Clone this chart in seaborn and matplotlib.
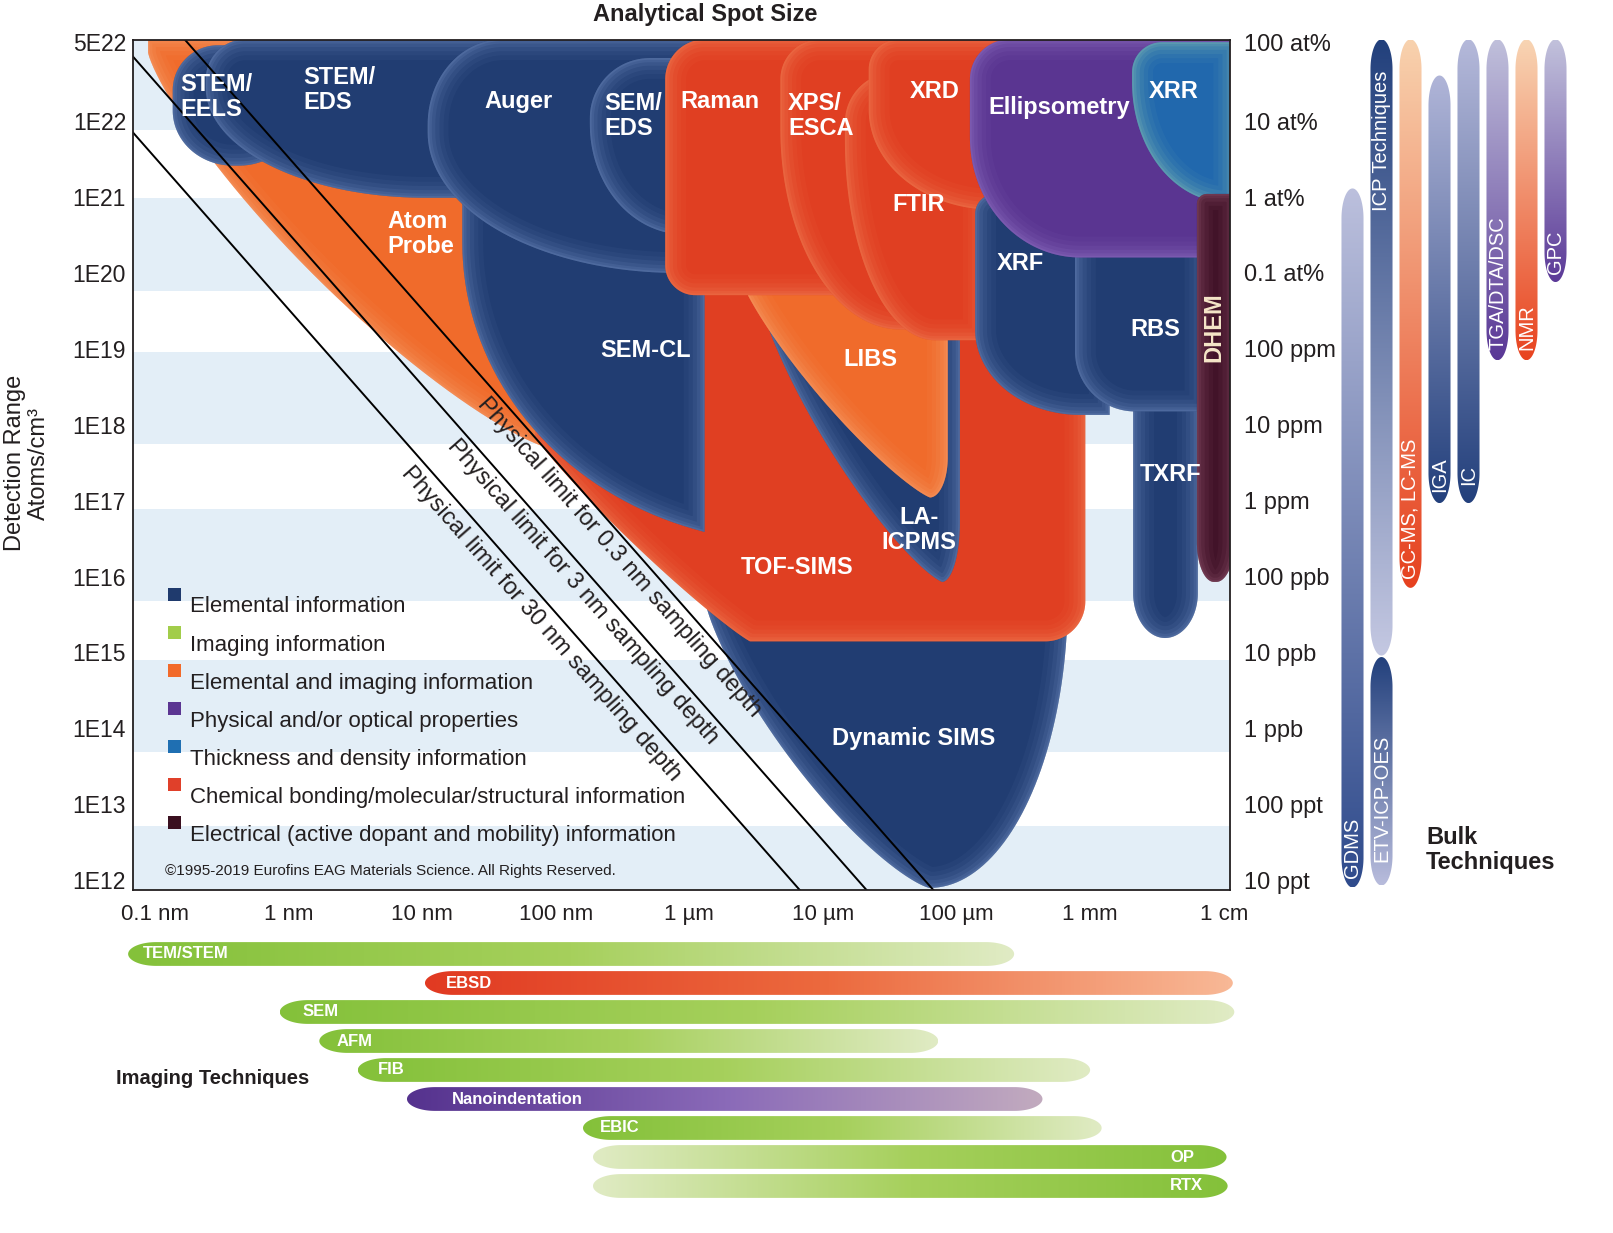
import numpy as np
import pandas as pd
import matplotlib
matplotlib.use('Agg')
import matplotlib.pyplot as plt
import seaborn as sns
from matplotlib.patches import Polygon, Rectangle
from matplotlib.colors import LinearSegmentedColormap
from matplotlib.ticker import NullLocator

sns.set_theme(style='white')
plt.rcParams['font.family'] = ['Liberation Sans', 'DejaVu Sans']
plt.rcParams['text.color'] = '#231f20'

# ---------------- data ----------------
# techniques on the main map: spot size range (m) and detection range (atoms/cm3)
tech_names = ['Atom Probe', 'Dynamic SIMS', 'TOF-SIMS', 'LA-ICPMS', 'LIBS',
              'STEM/EELS', 'STEM/EDS', 'SEM-CL', 'Auger', 'SEM/EDS',
              'Raman', 'XPS/ESCA', 'FTIR', 'XRD', 'XRF', 'TXRF', 'RBS',
              'Ellipsometry', 'XRR', 'DHEM']
tech_kind = ['elem_img', 'elemental', 'chemical', 'elemental', 'elem_img',
             'elemental', 'elemental', 'elemental', 'elemental', 'elemental',
             'chemical', 'chemical', 'chemical', 'chemical', 'elemental', 'elemental', 'elemental',
             'physical', 'thickness', 'electrical']
spot_lo = [8.9e-11, 1.3e-6, 7.0e-8, 3.4e-6, 2.4e-6,
           1.36e-10, 2.4e-10, 2.0e-8, 1.1e-8, 1.8e-7,
           6.6e-7, 4.8e-6, 1.46e-5, 2.2e-5, 1.38e-4, 2.1e-3, 7.7e-4,
           1.26e-4, 2.06e-3, 6.3e-3]
spot_hi = [1.1e-7, 6.8e-4, 9.2e-4, 1.06e-4, 8.6e-5,
           1.2e-9, 3.0e-7, 1.3e-6, 3.4e-6, 4.8e-6,
           2.25e-5, 1.06e-4, 1.6e-4, 2.5e-4, 1.4e-3, 6.4e-3, 7.3e-3,
           1.2e-2, 1.2e-2, 1.2e-2]
det_lo = [5.0e17, 7.9e11, 1.4e15, 8.5e15, 1.1e17,
          2.6e21, 9.8e20, 2.8e16, 1.0e20, 3.2e20,
          5.1e19, 1.8e19, 1.3e19, 6.8e20, 1.35e18, 1.55e15, 1.5e18,
          1.6e20, 8.5e20, 8.5e15]
det_hi = [1.2e23, 9.0e15, 1.7e20, 5.9e19, 2.0e20,
          1.0e23, 1.2e23, 1.1e21, 1.2e23, 6.8e22,
          1.2e23, 1.2e23, 4.4e22, 1.2e23, 1.1e21, 3.9e18, 5.0e20,
          1.2e23, 1.1e23, 1.1e21]

depth_nm = [0.3, 3, 30]

x_tick_vals = [1e-10, 1e-9, 1e-8, 1e-7, 1e-6, 1e-5, 1e-4, 1e-3, 1e-2]
x_tick_labels = ['0.1 nm', '1 nm', '10 nm', '100 nm', '1 µm', '10 µm', '100 µm', '1 mm', '1 cm']
y_tick_labels = ['1E12', '1E13', '1E14', '1E15', '1E16', '1E17', '1E18', '1E19',
                 '1E20', '1E21', '1E22', '5E22']
y_right_labels = ['10 ppt', '100 ppt', '1 ppb', '10 ppb', '100 ppb', '1 ppm', '10 ppm',
                  '100 ppm', '0.1 at%', '1 at%', '10 at%', '100 at%']

band_lo = [7.4e11, 4.9e13, 4.8e15, 5.5e17, 5.8e19, 7.6e21]
band_hi = [5.2e12, 7.9e14, 7.8e16, 9.1e18, 9.8e20, 1.2e23]

legend_kinds = ['elemental', 'imaging', 'elem_img', 'physical', 'thickness', 'chemical', 'electrical']
legend_labels = ['Elemental information', 'Imaging information', 'Elemental and imaging information',
                 'Physical and/or optical properties', 'Thickness and density information',
                 'Chemical bonding/molecular/structural information',
                 'Electrical (active dopant and mobility) information']

img_names = ['TEM/STEM', 'EBSD', 'SEM', 'AFM', 'FIB', 'Nanoindentation', 'EBIC', 'OP', 'RTX']
img_kind = ['imaging', 'chemical', 'imaging', 'imaging', 'imaging', 'physical', 'imaging', 'imaging', 'imaging']
img_lo = [6.3e-11, 1.05e-8, 8.6e-10, 1.7e-9, 3.3e-9, 7.7e-9, 1.6e-7, 1.9e-7, 1.9e-7]
img_hi = [2.7e-4, 1.17e-2, 1.2e-2, 7.3e-5, 1.0e-3, 4.4e-4, 1.22e-3, 1.05e-2, 1.07e-2]

bulk_names = ['GDMS', 'ICP Techniques', 'ETV-ICP-OES', 'GC-MS, LC-MS', 'IGA', 'IC',
              'TGA/DTA/DSC', 'NMR', 'GPC']
bulk_col = [0, 1, 1, 2, 3, 4, 5, 6, 7]
bulk_lo = [8e11, 9.1e14, 8.5e11, 7.1e15, 9.3e16, 9.3e16, 7.1e18, 7.1e18, 7.6e19]
bulk_hi = [1.3e21, 1.2e23, 8.7e14, 1.2e23, 4e22, 1.2e23, 1.2e23, 1.2e23, 1.2e23]

# ---------------- styles ----------------
kind_color = {'elemental': '#213d72', 'imaging': '#9cc83f', 'elem_img': '#f06b2b',
              'physical': '#5a3591', 'thickness': '#2168ad', 'chemical': '#e03f22',
              'electrical': '#3d0f24'}
kind_glow = {'elemental': '#8aa6d8', 'imaging': '#d8e8b0', 'elem_img': '#fbb488',
             'physical': '#a68ad8', 'thickness': '#a8dcb8', 'chemical': '#f89868',
             'electrical': '#b07088'}
legend_color = {'elemental': '#1f3a6d', 'imaging': '#a2cd4a', 'elem_img': '#f26a2a',
                'physical': '#5b3592', 'thickness': '#1f6fb2', 'chemical': '#e0402a',
                'electrical': '#3a1020'}

# corner shapes in pixels: (rx, ry, exponent)
corner_style = {
    'Atom Probe': {'bl': (400, 395, 1.25)},
    'Dynamic SIMS': {'bl': (225, 290, 1.3), 'br': (138, 290, 2)},
    'TOF-SIMS': {'bl': (215, 205, 1.1), 'br': (40, 40, 2)},
    'LA-ICPMS': {'bl': (182, 282, 1.25), 'br': (18, 60, 2)},
    'LIBS': {'bl': (190, 220, 1.2), 'br': (18, 40, 2)},
    'STEM/EELS': {'tl': (45, 45, 2), 'tr': (45, 45, 2), 'bl': (60, 55, 2), 'br': (60, 55, 2)},
    'STEM/EDS': {'tl': (40, 40, 2), 'bl': (220, 110, 2)},
    'SEM-CL': {'bl': (330, 300, 2)},
    'Auger': {'tl': (75, 85, 2), 'bl': (250, 140, 2)},
    'SEM/EDS': {'tl': (60, 60, 2), 'bl': (95, 110, 2)},
    'Raman': {'tl': (40, 40, 2), 'bl': (30, 30, 2), 'br': (30, 30, 2)},
    'XPS/ESCA': {'tl': (40, 40, 2), 'bl': (120, 200, 2)},
    'FTIR': {'tl': (50, 50, 2), 'bl': (90, 200, 2)},
    'XRD': {'tl': (30, 30, 2), 'bl': (125, 100, 2)},
    'XRF': {'tl': (20, 20, 2), 'bl': (105, 85, 2)},
    'TXRF': {'bl': (32, 45, 2), 'br': (33, 45, 2)},
    'RBS': {'tl': (20, 20, 2), 'bl': (60, 60, 2)},
    'Ellipsometry': {'tl': (40, 40, 2), 'bl': (110, 120, 2)},
    'XRR': {'tl': (30, 30, 2), 'bl': (95, 120, 2)},
    'DHEM': {'tl': (10, 10, 2), 'bl': (17, 40, 2), 'br': (18, 40, 2)},
}

label_text = {'STEM/EELS': 'STEM/\nEELS', 'STEM/EDS': 'STEM/\nEDS', 'SEM/EDS': 'SEM/\nEDS',
              'XPS/ESCA': 'XPS/\nESCA', 'Atom Probe': 'Atom\nProbe', 'LA-ICPMS': 'LA-\nICPMS'}
# label anchor (spot m, detection), horizontal alignment, rotation
label_pos = {
    'STEM/EELS': (1.54e-10, 2.1e22, 'left', 0), 'STEM/EDS': (1.3e-9, 2.6e22, 'left', 0),
    'Auger': (5.3e-8, 1.8e22, 'center', 0), 'SEM/EDS': (2.3e-7, 1.16e22, 'left', 0),
    'Raman': (1.7e-6, 1.8e22, 'center', 0), 'XPS/ESCA': (5.5e-6, 1.16e22, 'left', 0),
    'XRD': (6.9e-5, 2.5e22, 'center', 0), 'Ellipsometry': (5.9e-4, 1.5e22, 'center', 0),
    'XRR': (4.2e-3, 2.5e22, 'center', 0), 'FTIR': (5.2e-5, 8.1e20, 'center', 0),
    'Atom Probe': (5.5e-9, 3.3e20, 'left', 0), 'XRF': (3.0e-4, 1.35e20, 'center', 0),
    'RBS': (3.1e-3, 1.8e19, 'center', 0), 'DHEM': (8.4e-3, 1.95e19, 'center', 90),
    'SEM-CL': (4.7e-7, 9.6e18, 'center', 0), 'LIBS': (2.25e-5, 7.3e18, 'center', 0),
    'TXRF': (4.0e-3, 2.2e17, 'center', 0), 'LA-ICPMS': (5.2e-5, 4.1e16, 'center', 0),
    'TOF-SIMS': (6.4e-6, 1.3e16, 'center', 0), 'Dynamic SIMS': (4.8e-5, 7.4e13, 'center', 0),
}
limit_text_pos = [(3.0e-7, 1.8e16), (1.58e-7, 6.2e15), (7.8e-8, 2.4e15)]

img_grad = {'imaging': ['#84c13a', '#a6d05c', '#e0ebc4'],
            'chemical': ['#e13a22', '#ec6a3e', '#f8b896'],
            'physical': ['#55328e', '#8a6ab8', '#c2abbf']}
img_reverse = {'OP', 'RTX'}
img_label_off = {'TEM/STEM': 15, 'EBSD': 21, 'SEM': 23, 'AFM': 17, 'FIB': 20,
                 'Nanoindentation': 45, 'EBIC': 17, 'OP': 32, 'RTX': 25}

bulk_grad = {'GDMS': ('#2f4b8c', '#bcc0dd'), 'ICP Techniques': ('#c4c8e2', '#22407c'),
             'ETV-ICP-OES': ('#b8bcdc', '#22407c'), 'GC-MS, LC-MS': ('#e6411f', '#f8d2ae'),
             'IGA': ('#23407c', '#b0b5d8'), 'IC': ('#23407c', '#b5b9da'),
             'TGA/DTA/DSC': ('#5a3896', '#c0c0db'), 'NMR': ('#e8431f', '#f8d5b4'),
             'GPC': ('#5c3a98', '#c2c2dc')}
bulk_label_y = {'GDMS': 2.7e12, 'ICP Techniques': 5.6e21, 'ETV-ICP-OES': 1.2e13,
                'GC-MS, LC-MS': 7.9e16, 'IGA': 2.2e17, 'IC': 2.2e17,
                'TGA/DTA/DSC': 7.4e19, 'NMR': 1.95e19, 'GPC': 1.9e20}

# ---------------- layout ----------------
W, H = 1613, 1233
fig = plt.figure(figsize=(W / 100, H / 100), dpi=100)
fig.patch.set_facecolor('white')


def rect(l, t, r, b):
    return [l / W, 1 - b / H, (r - l) / W, (b - t) / H]


XL = (-10.164, -1.953)
YL = (11.87, 23.07)
ppd = 1097 / (XL[1] - XL[0])

ax = fig.add_axes(rect(133, 40, 1230, 890))
ax.set_xscale('log')
ax.set_yscale('log')
ax.set_xlim(10 ** XL[0], 10 ** XL[1])
ax.set_ylim(10 ** YL[0], 10 ** YL[1])
ax.set_autoscale_on(False)
ax.set_facecolor('white')


def blob_vertices(axis, x0, x1, y0, y1, corners, n=48):
    T = axis.transData
    a = T.transform([(x0, y0), (x1, y1)])
    X0, X1 = sorted(a[:, 0])
    Y0, Y1 = sorted(a[:, 1])

    def arc(cx, cy, rx, ry, p, a0, a1):
        t = np.radians(np.linspace(a0, a1, n))
        c, s = np.cos(t), np.sin(t)
        e = 2.0 / p
        return np.column_stack([cx + rx * np.sign(c) * np.abs(c) ** e,
                                cy + ry * np.sign(s) * np.abs(s) ** e])

    def get(k):
        return corners.get(k, (0, 0, 2))
    rx, ry, p = get('tr'); s1 = arc(X1 - rx, Y1 - ry, rx, ry, p, 0, 90)
    rx, ry, p = get('tl'); s2 = arc(X0 + rx, Y1 - ry, rx, ry, p, 90, 180)
    rx, ry, p = get('bl'); s3 = arc(X0 + rx, Y0 + ry, rx, ry, p, 180, 270)
    rx, ry, p = get('br'); s4 = arc(X1 - rx, Y0 + ry, rx, ry, p, 270, 360)
    P = np.vstack([s1, s2, s3, s4])
    P[:, 0] = np.clip(P[:, 0], X0, X1)
    P[:, 1] = np.clip(P[:, 1], Y0, Y1)
    return T.inverted().transform(P)


# background bands
for lo, hi in zip(band_lo, band_hi):
    ax.axhspan(lo, hi, color='#e3eef7', lw=0, zorder=0.2)

# technique blobs with a soft inner rim
for i, name in enumerate(tech_names):
    V = blob_vertices(ax, spot_lo[i], spot_hi[i], det_lo[i], det_hi[i], corner_style[name])
    poly = Polygon(V, closed=True, facecolor=kind_color[tech_kind[i]], edgecolor='none', zorder=2 + i)
    ax.add_patch(poly)
    Vc = np.vstack([V, V[:1]])
    for lw, al in [(30, 0.05), (23, 0.06), (17, 0.08), (11, 0.1), (6, 0.12), (2.5, 0.15)]:
        ln, = ax.plot(Vc[:, 0], Vc[:, 1], color=kind_glow[tech_kind[i]], lw=lw, alpha=al,
                      zorder=2 + i, solid_joinstyle='round')
        ln.set_clip_path(poly)

for name, (x, y, ha, rot) in label_pos.items():
    ax.text(x, y, label_text.get(name, name), color='#f5e6c8' if name == 'DHEM' else 'white',
            fontsize=17, fontweight='bold', ha=ha, va='center', rotation=rot,
            linespacing=1.1, zorder=60)

# physical limit lines: N = 1 / (spot^2 * depth)
rows = []
for d in depth_nm:
    for s in [1e-11, 1e-1]:
        rows.append({'spot': s, 'det': 1.0 / ((s * 100) ** 2 * d * 1e-7), 'depth': d})
lim_df = pd.DataFrame(rows)
sns.lineplot(data=lim_df, x='spot', y='det', units='depth', estimator=None, color='black',
             lw=1.4, ax=ax, zorder=45, legend=False)
ax.set_xlabel('')
ax.set_ylabel('')
ax.set_xlim(10 ** XL[0], 10 ** XL[1])
ax.set_ylim(10 ** YL[0], 10 ** YL[1])

p1 = ax.transData.transform((1e-9, 1.0 / ((1e-7) ** 2 * 3e-8)))
p2 = ax.transData.transform((1e-4, 1.0 / ((1e-2) ** 2 * 3e-8)))
ang = np.degrees(np.arctan2(p2[1] - p1[1], p2[0] - p1[0]))
for d, (x, y) in zip(depth_nm, limit_text_pos):
    ax.text(x, y, f'Physical limit for {d:g} nm sampling depth', rotation=ang,
            rotation_mode='anchor', ha='center', va='center', fontsize=17, zorder=50)

# ticks
ax.set_xticks(x_tick_vals)
ax.set_xticklabels(x_tick_labels)
ax.xaxis.set_minor_locator(NullLocator())
ytv = [10.0 ** k for k in range(12, 23)] + [10 ** (YL[1] - 0.03)]
ax.set_yticks(ytv)
ax.set_yticklabels(y_tick_labels)
ax.yaxis.set_minor_locator(NullLocator())
ax.tick_params(axis='x', length=0, pad=10, labelsize=16, colors='#231f20')
ax.tick_params(axis='y', length=0, pad=5, labelsize=16.5, colors='#231f20')
for sp in ax.spines.values():
    sp.set_color('#231f20')
    sp.set_linewidth(1.3)
    sp.set_zorder(70)

tw = ax.twinx()
tw.set_yscale('log')
tw.set_ylim(10 ** YL[0], 10 ** YL[1])
tw.set_yticks(ytv)
tw.set_yticklabels(y_right_labels)
tw.yaxis.set_minor_locator(NullLocator())
tw.tick_params(axis='y', length=0, pad=10, labelsize=17, colors='#231f20')
for sp in tw.spines.values():
    sp.set_visible(False)


# legend
def to_ax(px, py):
    return ((px - 133) / 1097, (890 - py) / 850)


for k, (kind, lab) in enumerate(zip(legend_kinds, legend_labels)):
    py = 607 + 38 * k
    x, y = to_ax(168, py - 6.5)
    ax.add_patch(Rectangle((x, y), 13 / 1097, 13 / 850, transform=ax.transAxes,
                           facecolor=legend_color[kind], edgecolor='none', zorder=55))
    tx, ty = to_ax(190, py)
    ax.text(tx, ty, lab, transform=ax.transAxes, fontsize=16, va='center', ha='left', zorder=55)
cx, cy = to_ax(165, 871)
ax.text(cx, cy, '©1995-2019 Eurofins EAG Materials Science. All Rights Reserved.',
        transform=ax.transAxes, fontsize=11, va='center', ha='left', zorder=55)

# ---------------- imaging techniques ----------------
axi = fig.add_axes(rect(120, 939.5, 1245, 1200.5))
axi.set_xlim(XL[0] - 13 / ppd, XL[1] + 15 / ppd)
axi.set_ylim(8.5, -0.5)
axi.set_autoscale_on(False)
axi.axis('off')
grad = np.linspace(0, 1, 256)
for i, name in enumerate(img_names):
    x0, x1 = np.log10(img_lo[i]), np.log10(img_hi[i])
    y0, y1 = i + 0.41, i - 0.41
    V = blob_vertices(axi, x0, x1, y0, y1, {k: (28, 12, 2) for k in ['tl', 'tr', 'bl', 'br']})
    patch = Polygon(V, closed=True, facecolor='none', edgecolor='none')
    axi.add_patch(patch)
    cols = img_grad[img_kind[i]]
    if name in img_reverse:
        cols = cols[::-1]
    cmap = LinearSegmentedColormap.from_list(name, cols)
    im = axi.imshow(grad[None, :], cmap=cmap, extent=(x0, x1, y0, y1), aspect='auto',
                    interpolation='bilinear', zorder=2)
    im.set_clip_path(patch)
    if name in img_reverse:
        axi.annotate(name, xy=(x1, i), xytext=(-img_label_off[name], 0), textcoords='offset pixels',
                     ha='right', va='center', color='white', fontsize=12, fontweight='bold', zorder=5)
    else:
        axi.annotate(name, xy=(x0, i), xytext=(img_label_off[name], 0), textcoords='offset pixels',
                     ha='left', va='center', color='white', fontsize=12, fontweight='bold', zorder=5)
axi.set_xlim(XL[0] - 13 / ppd, XL[1] + 15 / ppd)
axi.set_ylim(8.5, -0.5)

# ---------------- bulk techniques ----------------
axb = fig.add_axes(rect(1338, 40, 1570, 890))
axb.set_xlim(-0.5, 7.5)
axb.set_ylim(YL[0], YL[1])
axb.set_autoscale_on(False)
axb.axis('off')
for i, name in enumerate(bulk_names):
    c = bulk_col[i]
    x0, x1 = c - 0.38, c + 0.38
    y0, y1 = np.log10(bulk_lo[i]), np.log10(bulk_hi[i])
    V = blob_vertices(axb, x0, x1, y0, y1, {k: (11, 30, 2) for k in ['tl', 'tr', 'bl', 'br']})
    patch = Polygon(V, closed=True, facecolor='none', edgecolor='none')
    axb.add_patch(patch)
    cmap = LinearSegmentedColormap.from_list(name, list(bulk_grad[name]))
    im = axb.imshow(grad[:, None], cmap=cmap, extent=(x0, x1, y0, y1), origin='lower',
                    aspect='auto', interpolation='bilinear', zorder=2)
    im.set_clip_path(patch)
    axb.text(c, np.log10(bulk_label_y[name]), name, rotation=90, ha='center', va='center',
             color='white', fontsize=14.5, zorder=5)
axb.set_xlim(-0.5, 7.5)
axb.set_ylim(YL[0], YL[1])

# ---------------- titles ----------------
fig.text(705 / W, 1 - 14 / H, 'Analytical Spot Size', ha='center', va='center',
         fontsize=17, fontweight='bold')
fig.text(27 / W, 1 - 463 / H, 'Detection Range\nAtoms/cm³', rotation=90, ha='center',
         va='center', fontsize=17, linespacing=1.15)
fig.text(116 / W, 1 - 1078 / H, 'Imaging Techniques', ha='left', va='center',
         fontsize=14.5, fontweight='bold')
fig.text(1426 / W, 1 - 850 / H, 'Bulk\nTechniques', ha='left', va='center',
         fontsize=17, fontweight='bold', linespacing=1.15)

fig.savefig('out.png', dpi=100, facecolor='white')
